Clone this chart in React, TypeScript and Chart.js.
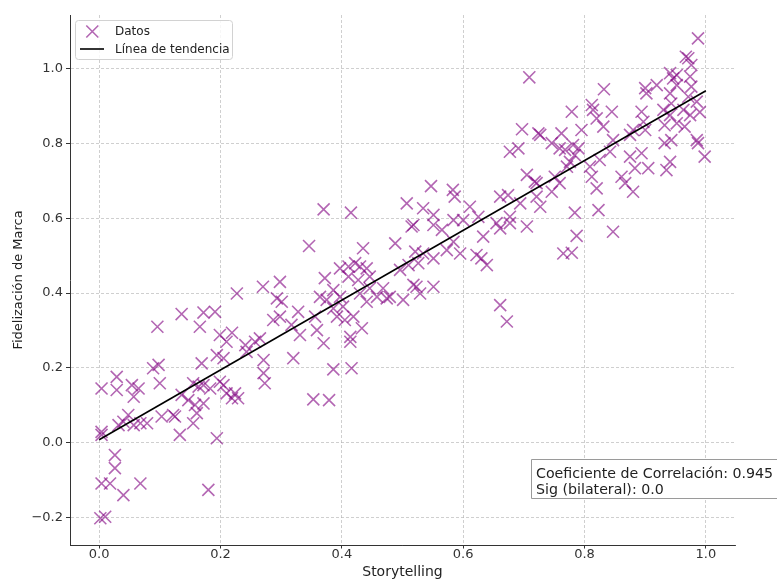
import React, { useEffect, useRef } from "react";
import { Chart, registerables } from "chart.js";

Chart.register(...registerables);

// Storytelling (x) values of each observation
const STORYTELLING: number[] = [
  0.227, 0.270, 0.298, 0.293, 0.301, 0.136, 0.172, 0.191, 0.166, 0.096,
  0.287, 0.298, 0.328, 0.317, 0.331, 0.320, 0.199, 0.219, 0.210, 0.241,
  0.257, 0.243, 0.265, 0.271, 0.271, 0.273, 0.194, 0.205, 0.169, 0.089,
  0.098, 0.100, 0.029, 0.029, 0.004, 0.054, 0.065, 0.057, 0.155, 0.164,
  0.172, 0.183, 0.199, 0.205, 0.210, 0.224, 0.229, 0.219, 0.136, 0.147,
  0.158, 0.172, 0.161, 0.155, 0.133, 0.194, 0.122, 0.125, 0.103, 0.079,
  0.068, 0.057, 0.048, 0.040, 0.032, 0.004, 0.004, 0.026, 0.026, 0.004,
  0.018, 0.040, 0.068, 0.180, 0.002, 0.010,
  0.370, 0.415, 0.346, 0.435, 0.488, 0.547, 0.583, 0.586, 0.507, 0.534,
  0.551, 0.518, 0.515, 0.551, 0.565, 0.584, 0.611, 0.600, 0.625, 0.633,
  0.622, 0.630, 0.639, 0.595, 0.584, 0.573, 0.551, 0.534, 0.521, 0.526,
  0.510, 0.496, 0.523, 0.518, 0.529, 0.551, 0.501, 0.479, 0.468, 0.474,
  0.458, 0.446, 0.441, 0.430, 0.446, 0.441, 0.430, 0.422, 0.411, 0.397,
  0.411, 0.427, 0.372, 0.386, 0.364, 0.375, 0.397, 0.402, 0.386, 0.392,
  0.405, 0.419, 0.433, 0.414, 0.414, 0.370, 0.359, 0.356, 0.386, 0.416,
  0.353, 0.379,
  0.709, 0.832, 0.779, 0.812, 0.814, 0.845, 0.820, 0.831, 0.795, 0.697,
  0.724, 0.727, 0.762, 0.746, 0.759, 0.768, 0.781, 0.790, 0.784, 0.776,
  0.771, 0.677, 0.691, 0.705, 0.718, 0.721, 0.751, 0.759, 0.746, 0.721,
  0.727, 0.694, 0.674, 0.661, 0.677, 0.677, 0.655, 0.661, 0.705, 0.784,
  0.787, 0.765, 0.779, 0.823, 0.847, 0.809, 0.812, 0.820, 0.825, 0.842,
  0.847, 0.875, 0.894, 0.900, 0.902, 0.919, 0.941, 0.946, 0.952, 0.974,
  0.976, 0.976, 0.941, 0.943, 0.930, 0.963, 0.974, 0.985, 0.932, 0.952,
  0.897, 0.900, 0.880, 0.875, 0.894, 0.883, 0.905, 0.861, 0.867, 0.880,
  0.932, 0.943, 0.941, 0.935, 0.985, 0.987, 0.998, 0.965, 0.661, 0.672,
  0.987, 0.967, 0.971, 0.952, 0.971, 0.941, 0.990,
];

// Fidelización de Marca (y) values of each observation
const FIDELIZACION: number[] = [
  0.399, 0.417, 0.430, 0.386, 0.377, 0.344, 0.348, 0.350, 0.310, 0.310,
  0.328, 0.337, 0.350, 0.315, 0.288, 0.226, 0.288, 0.294, 0.270, 0.261,
  0.270, 0.243, 0.279, 0.221, 0.186, 0.159, 0.234, 0.226, 0.212, 0.199,
  0.208, 0.159, 0.176, 0.141, 0.145, 0.154, 0.145, 0.123, 0.159, 0.150,
  0.154, 0.145, 0.163, 0.154, 0.132, 0.132, 0.119, 0.119, 0.128, 0.114,
  0.101, 0.105, 0.079, 0.052, 0.021, 0.012, 0.074, 0.070, 0.070, 0.052,
  0.052, 0.047, 0.074, 0.056, 0.047, 0.029, 0.021, -0.033, -0.068, -0.109,
  -0.109, -0.140, -0.109, -0.126, -0.202, -0.198,
  0.624, 0.615, 0.526, 0.520, 0.533, 0.686, 0.676, 0.658, 0.640, 0.627,
  0.609, 0.582, 0.578, 0.582, 0.569, 0.595, 0.631, 0.595, 0.604, 0.551,
  0.502, 0.493, 0.475, 0.506, 0.537, 0.515, 0.493, 0.506, 0.511, 0.480,
  0.475, 0.462, 0.417, 0.422, 0.399, 0.417, 0.382, 0.390, 0.413, 0.386,
  0.390, 0.413, 0.377, 0.399, 0.444, 0.466, 0.471, 0.480, 0.471, 0.466,
  0.444, 0.435, 0.440, 0.408, 0.390, 0.382, 0.390, 0.364, 0.359, 0.337,
  0.328, 0.337, 0.306, 0.283, 0.270, 0.266, 0.301, 0.337, 0.196, 0.199,
  0.116, 0.114,
  0.977, 0.945, 0.885, 0.903, 0.890, 0.885, 0.867, 0.845, 0.836, 0.838,
  0.827, 0.823, 0.827, 0.801, 0.787, 0.783, 0.796, 0.787, 0.769, 0.751,
  0.738, 0.778, 0.787, 0.716, 0.698, 0.694, 0.711, 0.694, 0.671, 0.658,
  0.631, 0.640, 0.662, 0.658, 0.604, 0.587, 0.587, 0.573, 0.578, 0.615,
  0.553, 0.506, 0.508, 0.622, 0.564, 0.738, 0.711, 0.680, 0.756, 0.778,
  0.809, 0.823, 0.885, 0.948, 0.934, 0.956, 0.988, 0.974, 0.983, 0.979,
  1.010, 0.952, 0.934, 0.907, 0.890, 0.890, 0.876, 0.912, 0.849, 0.854,
  0.858, 0.836, 0.836, 0.765, 0.774, 0.734, 0.734, 0.711, 0.694, 0.671,
  0.801, 0.809, 0.751, 0.729, 0.809, 0.801, 0.765, 0.845, 0.368, 0.324,
  1.081, 1.032, 1.028, 0.956, 0.925, 0.876, 0.884,
];

// Trend line end points
const TREND_X: number[] = [0.0, 1.0];
const TREND_Y: number[] = [0.008, 0.941];

// Axis ticks and texts
const X_TICKS: number[] = [0.0, 0.2, 0.4, 0.6, 0.8, 1.0];
const Y_TICKS: number[] = [-0.2, 0.0, 0.2, 0.4, 0.6, 0.8, 1.0];
const X_TITLE = "Storytelling";
const Y_TITLE = "Fidelización de Marca";
const LEGEND_LABELS: string[] = ["Datos", "Línea de tendencia"];
const STATS_LINES: string[] = ["Coeficiente de Correlación: 0.945", "Sig (bilateral): 0.0"];

const FAMILY = "'DejaVu Sans', 'Noto Sans', sans-serif";
const MARKER_COLOR = "rgba(128,0,128,0.6)";
const GRID_COLOR = "rgba(175,175,175,0.75)";
const AXIS_COLOR = "#333333";

function fmtTick(v: number): string {
  const s = Math.abs(v).toFixed(1);
  return v < -1e-9 ? "\u2212" + s : s;
}

const overlayPlugin = {
  id: "overlayBoxes",
  afterDraw(chart: any) {
    const ctx: CanvasRenderingContext2D = chart.ctx;
    ctx.save();
    // Legend box
    ctx.beginPath();
    if ((ctx as any).roundRect) (ctx as any).roundRect(75.5, 20.5, 157, 39, 3);
    else ctx.rect(75.5, 20.5, 157, 39);
    ctx.fillStyle = "rgba(255,255,255,0.85)";
    ctx.fill();
    ctx.strokeStyle = "#d2d2d2";
    ctx.lineWidth = 1;
    ctx.stroke();

    // Legend marker (x)
    const mx = 92.3, my = 31.5, h = 6;
    ctx.beginPath();
    ctx.moveTo(mx - h, my - h);
    ctx.lineTo(mx + h, my + h);
    ctx.moveTo(mx + h, my - h);
    ctx.lineTo(mx - h, my + h);
    ctx.strokeStyle = MARKER_COLOR;
    ctx.lineWidth = 1.6;
    ctx.stroke();

    // Legend line
    ctx.beginPath();
    ctx.moveTo(80, 49);
    ctx.lineTo(104, 49);
    ctx.strokeStyle = "#000";
    ctx.lineWidth = 1.6;
    ctx.stroke();

    ctx.fillStyle = "#222";
    ctx.font = `12px ${FAMILY}`;
    ctx.textAlign = "left";
    ctx.textBaseline = "middle";
    ctx.fillText(LEGEND_LABELS[0], 115, 32);
    ctx.fillText(LEGEND_LABELS[1], 115, 49.5);

    // Stats box
    ctx.beginPath();
    ctx.rect(531.5, 459.5, 270, 39);
    ctx.fillStyle = "#ffffff";
    ctx.fill();
    ctx.strokeStyle = "#9a9a9a";
    ctx.lineWidth = 1;
    ctx.stroke();
    ctx.fillStyle = "#222";
    ctx.font = `14.2px ${FAMILY}`;
    ctx.textBaseline = "alphabetic";
    ctx.fillText(STATS_LINES[0], 536, 477.5);
    ctx.fillText(STATS_LINES[1], 536, 493.5);
    ctx.restore();
  },
};

export default function App() {
  const canvasRef = useRef<HTMLCanvasElement | null>(null);

  useEffect(() => {
    const canvas = canvasRef.current;
    if (!canvas) return;

    const points = STORYTELLING.map((x, i) => ({ x, y: FIDELIZACION[i] }));
    const trend = TREND_X.map((x, i) => ({ x, y: TREND_Y[i] }));

    const chart = new Chart(canvas, {
      type: "scatter",
      data: {
        datasets: [
          {
            label: LEGEND_LABELS[1],
            data: trend,
            showLine: true,
            borderColor: "#000000",
            borderWidth: 1.6,
            pointRadius: 0,
            fill: false,
            order: 0,
          } as any,
          {
            label: LEGEND_LABELS[0],
            data: points,
            pointStyle: "crossRot",
            pointRadius: 8.5,
            pointBorderWidth: 1.6,
            pointBorderColor: MARKER_COLOR,
            pointBackgroundColor: MARKER_COLOR,
            borderColor: MARKER_COLOR,
            backgroundColor: MARKER_COLOR,
            showLine: false,
            order: 1,
          } as any,
        ],
      },
      options: {
        responsive: false,
        animation: false,
        devicePixelRatio: 1,
        events: [],
        layout: { padding: { left: 0, top: 15, right: 42, bottom: 0 } },
        plugins: {
          legend: { display: false },
          tooltip: { enabled: false },
        },
        scales: {
          x: {
            type: "linear",
            min: -0.048,
            max: 1.048,
            afterBuildTicks: (s: any) => {
              s.ticks = X_TICKS.map((v) => ({ value: v }));
            },
            afterFit: (s: any) => {
              s.height = 34;
            },
            ticks: {
              callback: (v: any) => fmtTick(Number(v)),
              font: { family: FAMILY, size: 13, lineHeight: 1 },
              color: AXIS_COLOR,
              padding: 0,
              maxRotation: 0,
              autoSkip: false,
            },
            grid: {
              color: GRID_COLOR,
              lineWidth: 0.8,
              tickLength: 3.5,
              tickColor: AXIS_COLOR,
              tickWidth: 1,
              tickBorderDash: [],
            },
            border: { display: true, color: AXIS_COLOR, width: 1, dash: [3, 2] },
            title: {
              display: true,
              text: X_TITLE,
              color: "#222",
              font: { family: FAMILY, size: 14, lineHeight: 1 },
              padding: { top: 0, bottom: 0 },
            },
          },
          y: {
            type: "linear",
            min: -0.2735,
            max: 1.1436,
            afterBuildTicks: (s: any) => {
              s.ticks = Y_TICKS.map((v) => ({ value: v }));
            },
            afterFit: (s: any) => {
              s.width = 70;
            },
            ticks: {
              callback: (v: any) => fmtTick(Number(v)),
              font: { family: FAMILY, size: 13 },
              color: AXIS_COLOR,
              padding: 3,
              autoSkip: false,
            },
            grid: {
              color: GRID_COLOR,
              lineWidth: 0.8,
              tickLength: 4,
              tickColor: AXIS_COLOR,
              tickWidth: 1,
              tickBorderDash: [],
            },
            border: { display: true, color: AXIS_COLOR, width: 1, dash: [3, 2] },
            title: {
              display: true,
              text: Y_TITLE,
              color: "#222",
              font: { family: FAMILY, size: 13 },
              padding: { top: 11, bottom: 0 },
            },
          },
        },
      } as any,
      plugins: [overlayPlugin],
    });

    return () => {
      chart.destroy();
    };
  }, []);

  return (
    <div style={{ position: "absolute", left: 0, top: 0, width: 777, height: 579, background: "#fff" }}>
      <canvas ref={canvasRef} width={777} height={579} style={{ display: "block", width: 777, height: 579 }} />
    </div>
  );
}
